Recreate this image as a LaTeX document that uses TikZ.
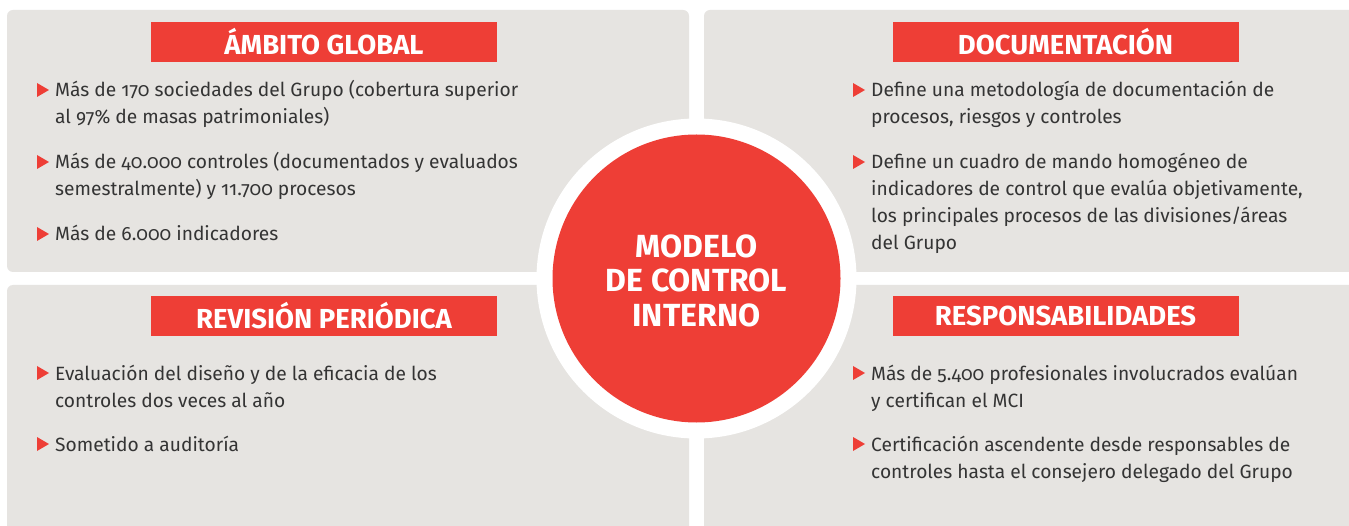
\documentclass[tikz,border=0pt]{standalone}
\usepackage{fontspec}
\setmainfont{Fira Sans}[Numbers=OldStyle]
\definecolor{mcired}{HTML}{EE3E36}
\definecolor{mcigray}{HTML}{E6E4E1}
\definecolor{mcitext}{HTML}{343434}
\tikzset{
  panelbox/.style={fill=mcigray, rounded corners=6pt},
  titlebox/.style={fill=mcired, text=white, font=\bfseries\fontsize{27.5}{30}\selectfont,
    minimum width=346pt, minimum height=40pt, inner sep=0pt},
  itemtext/.style={anchor=base west, text=mcitext, font=\fontsize{19.2}{27}\selectfont,
    align=left, inner sep=0pt},
  ringdisc/.style={circle, fill=white, minimum size=320pt, inner sep=0pt},
  coredisc/.style={circle, fill=mcired, minimum size=288pt, inner sep=0pt},
  coretext/.style={text=white, font=\bfseries\fontsize{32}{35}\selectfont, align=center, inner sep=0pt},
}
% #1 node name, #2 number of lines above the last one
\newcommand\mcibullet[2]{\fill[mcired] ([xshift=-18pt,yshift=#2*27pt]#1.base west) -- ++(12,-7) -- ++(-12,-7) -- cycle;}
\begin{document}
\begin{tikzpicture}[x=1pt,y=-1pt]
\useasboundingbox (0,0) rectangle (1349,526);
\clip (0,0) rectangle (1349,526);
\fill[white] (0,0) rectangle (1349,526);
% panels
\fill[panelbox] (7,10) rectangle (689,272);
\fill[panelbox] (704,10) rectangle (1365,272);
\fill[panelbox] (7,285) rectangle (689,545);
\fill[panelbox] (704,285) rectangle (1365,545);
% titles
\node[titlebox] (tglobal) at (324,42) {ÁMBITO GLOBAL};
\node[titlebox] (tdoc) at (1065.5,42) {DOCUMENTACIÓN};
\node[titlebox] (trev) at (324,316) {REVISIÓN PERIÓDICA};
\node[titlebox] (tresp) at (1065.5,316) {RESPONSABILIDADES};
% ambito global (anchors on the baseline of the last line)
\node[itemtext] (g1) at (55,124) {Más de 170 sociedades del Grupo (cobertura superior\\al 97\% de masas patrimoniales)};
\node[itemtext] (g2) at (55,196) {Más de 40.000 controles (documentados y evaluados\\semestralmente) y 11.700 procesos};
\node[itemtext] (g3) at (55,241) {Más de 6.000 indicadores};
\mcibullet{g1}{1}\mcibullet{g2}{1}\mcibullet{g3}{0}
% documentacion
\node[itemtext] (d1) at (871,124) {Define una metodología de documentación de\\procesos, riesgos y controles};
\node[itemtext] (d2) at (871,250) {Define un cuadro de mando homogéneo de\\indicadores de control que evalúa objetivamente,\\los principales procesos de las divisiones/áreas\\del Grupo};
\mcibullet{d1}{1}\mcibullet{d2}{3}
% revision
\node[itemtext] (r1) at (55,407) {Evaluación del diseño y de la eficacia de los\\controles dos veces al año};
\node[itemtext] (r2) at (55,451) {Sometido a auditoría};
\mcibullet{r1}{1}\mcibullet{r2}{0}
% responsabilidades
\node[itemtext] (p1) at (871,407) {Más de 5.400 profesionales involucrados evalúan\\y certifican el MCI};
\node[itemtext] (p2) at (871,478) {Certificación ascendente desde responsables de\\controles hasta el consejero delegado del Grupo};
\mcibullet{p1}{1}\mcibullet{p2}{1}
% centre
\node[ringdisc] (ring) at (696.5,278.5) {};
\node[coredisc] (core) at (ring.center) {};
\node[coretext, anchor=base] (ct) at (696.5,327) {MODELO\\DE CONTROL\\INTERNO};
\end{tikzpicture}
\end{document}
